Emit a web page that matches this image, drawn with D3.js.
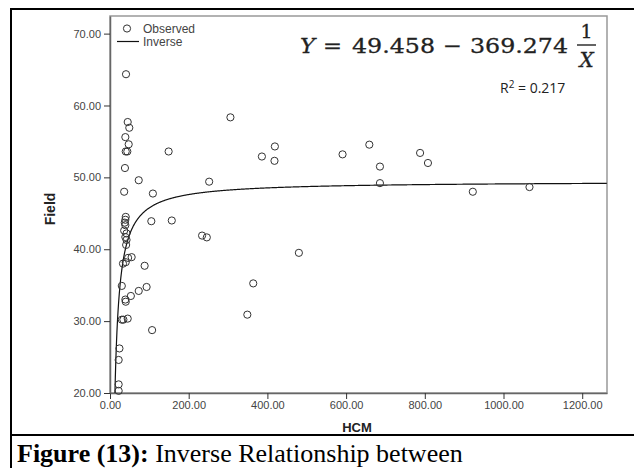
<!DOCTYPE html>
<html>
<head>
<meta charset="utf-8">
<script src="https://cdn.jsdelivr.net/npm/d3@7"></script>
<style>
  body { margin: 0; background: #fff; }
  svg { display: block; }
  .tick text { font-family: Arial, "Liberation Sans", sans-serif; font-size: 11px; fill: #444; }
</style>
</head>
<body>
<svg width="634" height="468"></svg>
<script>
// observed points (HCM, Field)
const hcm = [40.7, 45, 49, 39, 47.5, 40, 44, 38, 73, 36, 109, 149, 252, 306, 386, 419, 418,
  105, 157, 234, 246, 591, 659, 686, 788, 808, 686, 922, 1066, 480, 364, 349, 107, 88, 93,
  73, 53, 39, 40, 30, 55, 46, 33, 40, 41, 45, 30, 34, 24, 22, 22, 22,
  40, 39, 37.5, 39, 36, 42, 39, 42];
const field = [64.35, 57.7, 56.9, 55.6, 54.6, 53.6, 53.6, 51.3, 49.6, 48.0, 47.75, 53.6, 49.4, 58.35, 52.9, 54.3, 52.3,
  43.9, 44.0, 41.9, 41.65, 53.2, 54.55, 51.5, 53.4, 52.0, 49.2, 48.0, 48.65, 39.5, 35.25, 30.9, 28.75, 37.7, 34.75,
  34.2, 33.5, 33.0, 32.7, 34.9, 38.9, 38.8, 38.0, 38.2, 40.6, 30.35, 30.2, 30.2, 26.2, 24.6, 21.2, 20.3,
  44.5, 44.1, 43.7, 43.35, 42.6, 42.2, 41.7, 41.3];

const xTicks = [0, 200, 400, 600, 800, 1000, 1200];
const yTicks = [20, 30, 40, 50, 60, 70];

// inverse model
const b0 = 49.458, b1 = -369.274;

const svg = d3.select('svg');
const L = 110, R = 607, T = 16, B = 393;

let x = d3.scaleLinear().domain([0, 1263]).range([L, R]);
let y = d3.scaleLinear().domain([20, 72.45]).range([B, T]);

// outer table borders
svg.append('line').attr('x1', 10).attr('x2', 634).attr('y1', 9).attr('y2', 9).attr('stroke', '#000').attr('stroke-width', 2);
svg.append('line').attr('x1', 11).attr('x2', 11).attr('y1', 8).attr('y2', 468).attr('stroke', '#000').attr('stroke-width', 2);
svg.append('line').attr('x1', 10).attr('x2', 634).attr('y1', 435).attr('y2', 435).attr('stroke', '#000').attr('stroke-width', 2);

// plot frame
svg.append('rect').attr('x', L).attr('y', T).attr('width', R - L).attr('height', B - T)
  .attr('fill', 'none').attr('stroke', '#999').attr('stroke-width', 1.5);

svg.append('clipPath').attr('id', 'clip')
  .append('rect').attr('x', L).attr('y', T).attr('width', R - L).attr('height', B - T);

let xAxis = svg.append('g').attr('transform', 'translate(0,' + B + ')')
  .call(d3.axisBottom(x).tickValues(xTicks).tickFormat(d3.format('.2f')).tickSize(6).tickSizeOuter(0));
let yAxis = svg.append('g').attr('transform', 'translate(' + L + ',0)')
  .call(d3.axisLeft(y).tickValues(yTicks).tickFormat(d3.format('.2f')).tickSize(6).tickSizeOuter(0));
[xAxis, yAxis].forEach(function(a) {
  a.select('.domain').attr('stroke', '#666').attr('stroke-width', 1.5);
  a.selectAll('.tick line').attr('stroke', '#333');
});
xAxis.selectAll('.tick text').attr('dy', '0.6em');
yAxis.selectAll('.tick text').attr('x', -9);

// fitted curve
let xs = d3.range(-b1 / (b0 - 20), 1263, 1);
let line = d3.line().x(function(d) { return x(d); }).y(function(d) { return y(b0 + b1 / d); });
svg.append('path').datum(xs).attr('d', line).attr('fill', 'none')
  .attr('stroke', '#111').attr('stroke-width', 1.2).attr('clip-path', 'url(#clip)');

// points
svg.append('g').selectAll('circle').data(d3.range(hcm.length)).enter()
  .append('circle')
    .attr('cx', function(i) { return x(hcm[i]); })
    .attr('cy', function(i) { return y(field[i]); })
    .attr('r', 3.6)
    .attr('fill', 'none')
    .attr('stroke', '#333')
    .attr('stroke-width', 1);

// legend
let lg = svg.append('g').style('font-family', 'Arial, "Liberation Sans", sans-serif').style('font-size', '12px').attr('fill', '#444');
lg.append('circle').attr('cx', 127).attr('cy', 28.5).attr('r', 3.6).attr('fill', 'none').attr('stroke', '#333');
lg.append('text').attr('x', 143).attr('y', 33).text('Observed');
lg.append('line').attr('x1', 117).attr('x2', 139).attr('y1', 41.5).attr('y2', 41.5).attr('stroke', '#111').attr('stroke-width', 1.2);
lg.append('text').attr('x', 143).attr('y', 45.5).text('Inverse');

// equation
let eq = svg.append('g').style('font-family', '"DejaVu Serif", serif').style('font-size', '21px')
  .attr('fill', '#222').attr('stroke', '#222').attr('stroke-width', 0.3);
let parts = [
  { t: 'Y', x: 300, w: 15, it: true },
  { t: '=', x: 323, w: 19 },
  { t: '49.458', x: 352, w: 83 },
  { t: '\u2212', x: 443, w: 19 },
  { t: '369.274', x: 470, w: 98 }
];
parts.forEach(function(p) {
  eq.append('text').attr('x', p.x).attr('y', 53).attr('textLength', p.w).attr('lengthAdjust', 'spacingAndGlyphs')
    .style('font-style', p.it ? 'italic' : 'normal').text(p.t);
});
eq.append('text').attr('x', 586.5).attr('y', 38).attr('text-anchor', 'middle').style('font-size', '19px').text('1');
eq.append('line').attr('x1', 577).attr('x2', 596).attr('y1', 45).attr('y2', 45).attr('stroke-width', 1.4);
eq.append('text').attr('x', 586.5).attr('y', 67).attr('text-anchor', 'middle').style('font-style', 'italic').style('font-size', '20px').text('X');

// R squared
let r2 = svg.append('text').attr('x', 500).attr('y', 93).style('font-family', '"Open Sans", "Liberation Sans", sans-serif')
  .style('font-size', '14px').attr('fill', '#222');
r2.append('tspan').text('R');
r2.append('tspan').attr('dy', -5).style('font-size', '10px').text('2');
r2.append('tspan').attr('dy', 5).text(' = 0.217');

// axis titles
svg.append('text').attr('x', 357).attr('y', 432).attr('text-anchor', 'middle')
  .style('font-family', 'Arial, "Liberation Sans", sans-serif').style('font-size', '13px').style('font-weight', 'bold')
  .attr('fill', '#222').text('HCM');
svg.append('text').attr('transform', 'translate(55,209) rotate(-90)').attr('text-anchor', 'middle')
  .style('font-family', 'Arial, "Liberation Sans", sans-serif').style('font-size', '14px').style('font-weight', 'bold')
  .attr('fill', '#222').text('Field');

// caption
let cap = svg.append('text').attr('x', 17).attr('y', 462)
  .style('font-family', '"Liberation Serif", "Times New Roman", serif').style('font-size', '26px').attr('fill', '#000');
cap.append('tspan').style('font-weight', 'bold').text('Figure (13):');
cap.append('tspan').text(' Inverse Relationship between');
</script>
</body>
</html>
